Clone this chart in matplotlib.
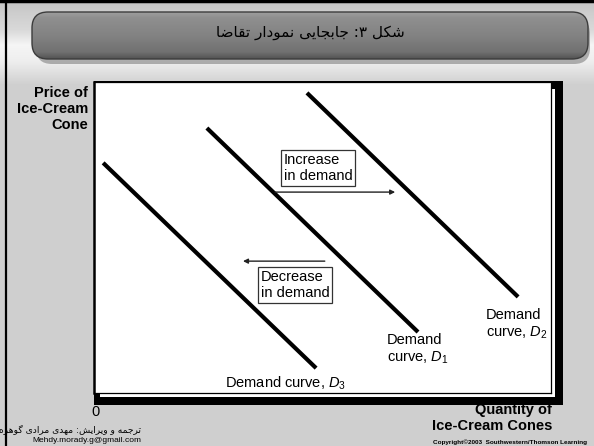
import numpy as np
import matplotlib
matplotlib.use("Agg")
import matplotlib.pyplot as plt
from matplotlib.patches import Rectangle, FancyBboxPatch

plt.rcParams['font.family'] = ['Liberation Sans', 'DejaVu Sans']
plt.rcParams['mathtext.fontset'] = 'custom'
plt.rcParams['mathtext.rm'] = 'Liberation Sans'
plt.rcParams['mathtext.it'] = 'Liberation Sans:italic'
plt.rcParams['mathtext.bf'] = 'Liberation Sans:bold'

# ---------------- data ----------------
title_fa = "شکل ۳: جابجایی نمودار تقاضا"
credit_fa = "ترجمه و ویرایش: مهدی مرادی گوهره"
credit_email = "Mehdy.morady.g@gmail.com"
copyright_txt = "Copyright\u00a92003  Southwestern/Thomson Learning"

y_label = "Price of\nIce-Cream\nCone"
x_label = "Quantity of\nIce-Cream Cones"

# demand curves (start point, end point) in chart units (0-100)
d3_x = [2.0, 48.6]
d3_y = [74.0, 8.0]
d1_x = [24.7, 70.9]
d1_y = [85.2, 19.6]
d2_x = [46.6, 92.8]
d2_y = [96.5, 30.9]

curve_labels = ["Demand curve, $D_3$", "Demand\ncurve, $D_1$", "Demand\ncurve, $D_2$"]
curve_label_x = [42.0, 70.9, 92.5]
curve_label_y = [3.0, 14.0, 22.0]

inc_x = [39.6, 65.9]
inc_y = [64.6, 64.6]
dec_x = [50.5, 32.6]
dec_y = [42.4, 42.4]
shift_labels = ["Increase\nin demand", "Decrease\nin demand"]
shift_label_x = [49.0, 44.0]
shift_label_y = [72.4, 34.8]

# ---------------- simple Persian shaping ----------------
FORMS = {
    '\u0627': ('\uFE8D', '\uFE8E', None, None),
    '\u0628': ('\uFE8F', '\uFE90', '\uFE91', '\uFE92'),
    '\u062A': ('\uFE95', '\uFE96', '\uFE97', '\uFE98'),
    '\u062C': ('\uFE9D', '\uFE9E', '\uFE9F', '\uFEA0'),
    '\u062F': ('\uFEA9', '\uFEAA', None, None),
    '\u0631': ('\uFEAD', '\uFEAE', None, None),
    '\u0634': ('\uFEB5', '\uFEB6', '\uFEB7', '\uFEB8'),
    '\u0636': ('\uFEBD', '\uFEBE', '\uFEBF', '\uFEC0'),
    '\u0642': ('\uFED5', '\uFED6', '\uFED7', '\uFED8'),
    '\u0644': ('\uFEDD', '\uFEDE', '\uFEDF', '\uFEE0'),
    '\u0645': ('\uFEE1', '\uFEE2', '\uFEE3', '\uFEE4'),
    '\u0646': ('\uFEE5', '\uFEE6', '\uFEE7', '\uFEE8'),
    '\u0647': ('\uFEE9', '\uFEEA', '\uFEEB', '\uFEEC'),
    '\u0648': ('\uFEED', '\uFEEE', None, None),
    '\u06CC': ('\uFBFC', '\uFBFD', '\uFBFE', '\uFBFF'),
    '\u06A9': ('\uFB8E', '\uFB8F', '\uFB90', '\uFB91'),
    '\u06AF': ('\uFB92', '\uFB93', '\uFB94', '\uFB95'),
}


def shape(s):
    out = []
    n = len(s)
    for i, c in enumerate(s):
        if c not in FORMS:
            out.append(c)
            continue
        iso, fin, ini, med = FORMS[c]
        prev = s[i - 1] if i > 0 else ''
        nxt = s[i + 1] if i < n - 1 else ''
        jp = prev in FORMS and FORMS[prev][2] is not None
        jn = ini is not None and nxt in FORMS
        if jp and jn:
            out.append(med)
        elif jp:
            out.append(fin)
        elif jn:
            out.append(ini)
        else:
            out.append(iso)
    return ''.join(reversed(out))


FA_FONT = ['DejaVu Sans']

# ---------------- figure ----------------
W, H = 594, 446
fig = plt.figure(figsize=(W / 100, H / 100), dpi=100)
fig.patch.set_facecolor('#cfcfcf')

bg = fig.add_axes([0, 0, 1, 1], zorder=0)
bg.set_xlim(0, W)
bg.set_ylim(H, 0)
bg.axis('off')

# slide background gradient (horizontal strips)
prof_y = [0, 30, 45, 62, 85, 95]
prof_v = [0.77, 0.85, 0.96, 0.93, 0.81, 0.81]
for y0 in range(0, 95):
    v = float(np.interp(y0 + 0.5, prof_y, prof_v))
    bg.add_patch(Rectangle((0, y0), W, 1.05, fc=(v, v, v), ec='none', lw=0, zorder=0))

# slide frame lines (top and left)
bg.plot([6, 6], [0, H], color='black', lw=1.6, zorder=1)
bg.plot([0, W], [1, 1], color='black', lw=2.5, zorder=1)

# title banner
shadow = FancyBboxPatch((36, 18), 554, 46, boxstyle='round,pad=0,rounding_size=16',
                        fc='#808080', ec='none', alpha=0.6, zorder=2)
bg.add_patch(shadow)
banner = FancyBboxPatch((32, 12), 556, 47, boxstyle='round,pad=0,rounding_size=16',
                        fc='#858585', ec='none', lw=0, zorder=3)
bg.add_patch(banner)
for k in range(47):
    t = (k + 0.5) / 47
    v = float(np.interp(t, [0, 0.12, 0.5, 0.85, 1.0], [0.62, 0.56, 0.51, 0.44, 0.32]))
    r = Rectangle((32, 12 + k), 556, 1.05, fc=(v, v, v), ec='none', lw=0, zorder=3.5)
    bg.add_patch(r)
    r.set_clip_path(banner)
banner2 = FancyBboxPatch((32, 12), 556, 47, boxstyle='round,pad=0,rounding_size=16',
                         fc='none', ec='#3c3c3c', lw=1.0, zorder=4)
bg.add_patch(banner2)
bg.text(310, 33, shape(title_fa), family=FA_FONT, fontsize=11, color='black',
        ha='center', va='center', zorder=5)

# texts partly hidden by the shadow
bg.text(552, 418, x_label, fontsize=10.5, fontweight='bold', ha='right', va='center',
        multialignment='right', linespacing=1.1, zorder=5)
bg.text(95, 412, "0", fontsize=10.5, ha='center', va='center', zorder=5)

# frame shadow
bg.add_patch(Rectangle((94, 81), 469, 324, fc='black', ec='none', zorder=6))
bg.add_patch(Rectangle((100, 89), 455, 308, fc='white', ec='none', zorder=7))

# axis label (left)
bg.text(88, 109, y_label, fontsize=10.5, fontweight='bold', ha='right', va='center',
        multialignment='right', linespacing=1.15, zorder=5)

# credits
bg.text(141, 429, shape(credit_fa), family=FA_FONT, fontsize=6.6, ha='right', va='center', zorder=5)
bg.text(141, 440, credit_email, fontsize=6, ha='right', va='center', zorder=5)
bg.text(433, 442, copyright_txt, fontsize=4.6, fontweight='bold', ha='left', va='center', zorder=5)

# ---------------- chart ----------------
L, R, T, B = 94, 551, 82, 393
ax = fig.add_axes([L / W, 1 - B / H, (R - L) / W, (B - T) / H], zorder=2)
ax.set_xlim(0, 100)
ax.set_ylim(0, 100)
ax.set_facecolor('white')
ax.set_xticks([])
ax.set_yticks([])
for s in ax.spines.values():
    s.set_linewidth(0.9)
    s.set_color('black')
ax.spines['left'].set_linewidth(1.8)

for xs, ys in [(d3_x, d3_y), (d1_x, d1_y), (d2_x, d2_y)]:
    ax.plot(xs, ys, color='black', lw=3.0, solid_capstyle='butt')

for lbl, x, y in zip(curve_labels, curve_label_x, curve_label_y):
    ax.text(x, y, lbl, fontsize=10.5, ha='center', va='center', multialignment='left',
            linespacing=1.2)

for xs, ys in [(inc_x, inc_y), (dec_x, dec_y)]:
    ax.annotate('', xy=(xs[1], ys[1]), xytext=(xs[0], ys[0]),
                arrowprops=dict(arrowstyle='-|>', color='#222222', lw=1.0,
                                mutation_scale=7, shrinkA=0, shrinkB=0))

for lbl, x, y in zip(shift_labels, shift_label_x, shift_label_y):
    ax.text(x, y, lbl, fontsize=10.5, ha='center', va='center', multialignment='left',
            linespacing=1.2,
            bbox=dict(boxstyle='square,pad=0.2', fc='white', ec='#333333', lw=0.9))

fig.savefig('out.png', dpi=100, facecolor=fig.get_facecolor())
